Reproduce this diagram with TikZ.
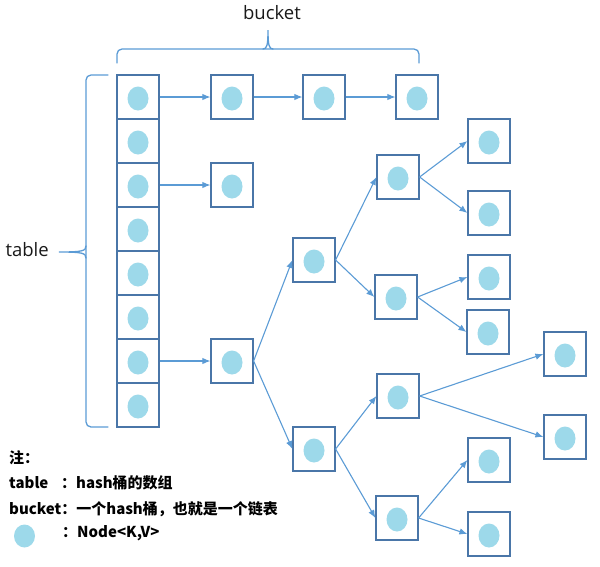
\documentclass[tikz,border=0pt]{standalone}
\usepackage{fontspec}
\setmainfont{Open Sans}
\newfontfamily\cjk{Noto Sans CJK SC}
\usetikzlibrary{arrows.meta}
\definecolor{boxline}{HTML}{4A76A8}
\definecolor{arrowc}{HTML}{5B9BD5}
\definecolor{dotc}{HTML}{9DD9EA}
\begin{document}
\begin{tikzpicture}[x=1pt,y=-1pt,
 cell/.style={draw=boxline,line width=1.2pt,minimum width=42pt,minimum height=44pt,inner sep=0pt,fill=white},
 link/.style={draw=arrowc,line width=1.1pt,-{Latex[length=8pt,width=6.5pt]}},
 bracec/.style={draw=arrowc,line width=1.3pt,line cap=round},
 lbl/.style={font=\fontsize{18.5}{20}\selectfont,text=black!90,inner sep=0pt},
 leg/.style={font=\cjk\bfseries\fontsize{15}{17}\selectfont,inner sep=0pt,anchor=west}]
\useasboundingbox (0,0) rectangle (600,566);
% table column
\foreach \i in {0,...,7} \node[cell] (t\i) at (138,97+44*\i) {};
% chains
\node[cell] (b1) at (232,97) {};
\node[cell] (b2) at (324,97) {};
\node[cell] (b3) at (417,97) {};
\node[cell] (c3) at (232,185) {};
\node[cell] (d0) at (232,361) {};
\node[cell] (L1a) at (314,260) {};
\node[cell] (L1b) at (314,449) {};
\node[cell] (L2a) at (398,177) {};
\node[cell] (L2b) at (396,297) {};
\node[cell] (L2c) at (398,396) {};
\node[cell] (L2d) at (397,518) {};
\node[cell] (M1) at (489,141) {};
\node[cell] (M2) at (489,213) {};
\node[cell] (M3) at (489,277) {};
\node[cell] (M4) at (488,332) {};
\node[cell] (M5) at (565,354) {};
\node[cell] (M6) at (565,437) {};
\node[cell] (M7) at (489,460) {};
\node[cell] (M8) at (489,534) {};
% links
\draw[link] (t0.east) -- (b1.west);
\draw[link] (b1.east) -- (b2.west);
\draw[link] (b2.east) -- (b3.west);
\draw[link] (t2.east) -- (c3.west);
\draw[link] (t6.east) -- (d0.west);
\draw[link] (d0.east) -- (L1a.west);
\draw[link] (d0.east) -- (L1b.west);
\draw[link] (L1a.east) -- (L2a.west);
\draw[link] (L1a.east) -- (L2b.west);
\draw[link] (L1b.east) -- (L2c.west);
\draw[link] (L1b.east) -- (L2d.west);
\draw[link] (L2a.east) -- (M1.west);
\draw[link] (L2a.east) -- (M2.west);
\draw[link] (L2b.east) -- (M3.west);
\draw[link] (L2b.east) -- (M4.west);
\draw[link] (L2c.east) -- (M5.west);
\draw[link] (L2c.east) -- (M6.west);
\draw[link] (L2d.east) -- (M7.west);
\draw[link] (L2d.east) -- (M8.west);
% dots
\foreach \n in {t0,t1,t2,t3,t4,t5,t6,t7,b1,b2,b3,c3,d0,L1a,L1b,L2a,L2b,L2c,L2d,M1,M2,M3,M4,M5,M6,M7,M8}
  \fill[dotc] ([yshift=-1.5pt]\n.center) ellipse (10.5pt and 12pt);
% braces
\draw[bracec,rounded corners=5pt] (117,63) -- (117,49) -- (419,49) -- (419,63);
\draw[bracec] (263,49) .. controls (267,49) and (268,45) .. (268,30) .. controls (268,45) and (269,49) .. (273,49);
\draw[bracec,rounded corners=5pt] (108,75) -- (86,75) -- (86,427) -- (108,427);
\draw[bracec] (86,246) .. controls (86,251) and (82,252) .. (59,252) .. controls (82,252) and (86,253) .. (86,258);
\node[lbl] (bucketlbl) at (272,13) {bucket};
\node[lbl,anchor=east] (tablelbl) at (49,250) {table};
% legend
\node[leg] (n0) at (9,458) {注：};
\node[leg] (n1) at (9,483) {table};
\node[leg] (n1b) at (61,483) {：hash桶的数组};
\node[leg] (n2) at (9,509) {bucket：一个hash桶，也就是一个链表};
\fill[dotc] (24.5,536) ellipse (10.5pt and 11.5pt);
\node[leg] (n3) at (62,533) {：Node<K,V>};
\end{tikzpicture}
\end{document}
